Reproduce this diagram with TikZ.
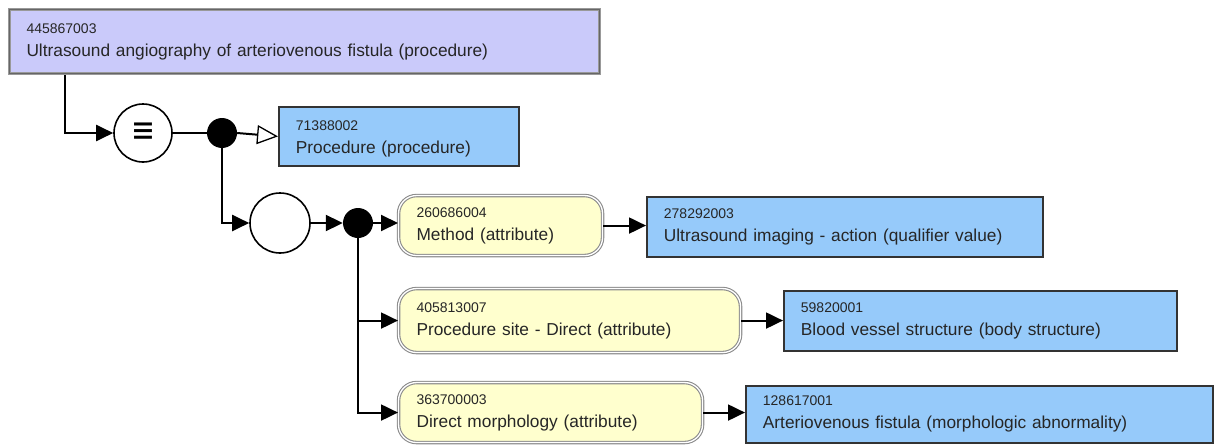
\documentclass[tikz,border=0pt]{standalone}
\usepackage{fontspec}
\setmainfont{Liberation Sans}
\newfontfamily\dejavu{DejaVu Sans}
\usetikzlibrary{arrows.meta}
\definecolor{lav}{RGB}{202,202,250}
\definecolor{skyb}{RGB}{150,202,250}
\definecolor{pale}{RGB}{255,255,206}
\newcommand{\codetxt}[1]{{\fontsize{14}{16}\selectfont #1}\\}
\newcommand{\maintxt}[1]{{\fontsize{17.3}{23}\selectfont #1}}
\tikzset{
  box/.style={anchor=north west, inner xsep=0pt, inner ysep=0pt, align=left, text=black!85, font=\fontsize{17.3}{23}\selectfont},
  bluebox/.style={box, fill=skyb, draw=black!80, line width=1.8pt},
  topbox/.style={box, fill=lav, draw=black!40, line width=3pt},
  yelbox/.style={box, fill=pale, draw=black!45, double=white, double distance=1.3pt, line width=1.1pt, rounded corners=18pt},
  ringnode/.style={circle, draw=black, line width=1.6pt, fill=white, inner sep=0pt},
  dotnode/.style={circle, fill=black, inner sep=0pt, minimum size=30pt},
  conn/.style={line width=2pt, black},
  arr/.style={conn, -{Triangle[length=17pt,width=16pt]}},
  oarr/.style={conn, -{Triangle[open,length=21pt,width=19pt,line width=1.3pt]}},
}
\begin{document}
\begin{tikzpicture}[x=1pt,y=-1pt]
\useasboundingbox (0,0) rectangle (1214,444);
\fill[white] (0,0) rectangle (1214,444);
% boxes
\node[topbox, minimum width=590pt, minimum height=64pt, text width=590pt] (top) at (8,8)
  {\hspace*{17pt}\codetxt{445867003}\hspace*{17pt}\maintxt{Ultrasound angiography of arteriovenous fistula (procedure)}};
\draw[black!60, line width=1pt] ([xshift=1.8pt,yshift=-1.8pt]top.north west) rectangle ([xshift=-1.8pt,yshift=1.8pt]top.south east);
\node[bluebox, minimum width=240pt, minimum height=59pt, text width=240pt] (proc) at (278,106)
  {\hspace*{17pt}\codetxt{\rule{0pt}{14pt}71388002}\hspace*{17pt}\maintxt{Procedure (procedure)}};
\node[ringnode, minimum size=58pt, font=\dejavu\fontsize{26}{26}\selectfont] (eq) at (143,133) {\scalebox{1.1}[1.4]{≡}};
\node[dotnode] (d1) at (222,133) {};
\node[ringnode, minimum size=60pt] (c2) at (280,223) {};
\node[dotnode] (d2) at (358,223) {};
\node[yelbox, minimum width=204pt, minimum height=60pt, text width=204pt] (y1) at (398,195)
  {\hspace*{18pt}\codetxt{260686004}\hspace*{18pt}\maintxt{Method (attribute)}};
\node[yelbox, minimum width=342pt, minimum height=64pt, text width=342pt] (y2) at (398,288)
  {\hspace*{18pt}\codetxt{405813007}\hspace*{18pt}\maintxt{Procedure site - Direct (attribute)}};
\node[yelbox, minimum width=304pt, minimum height=60pt, text width=304pt] (y3) at (398,382)
  {\hspace*{18pt}\codetxt{363700003}\hspace*{18pt}\maintxt{Direct morphology (attribute)}};
\node[bluebox, minimum width=396pt, minimum height=60pt, text width=396pt] (b1) at (646,196)
  {\hspace*{17pt}\codetxt{278292003}\hspace*{17pt}\maintxt{Ultrasound imaging - action (qualifier value)}};
\node[bluebox, minimum width=393pt, minimum height=60pt, text width=393pt] (b2) at (783,290)
  {\hspace*{17pt}\codetxt{59820001}\hspace*{17pt}\maintxt{Blood vessel structure (body structure)}};
\node[bluebox, minimum width=467pt, minimum height=57pt, text width=467pt] (b3) at (745,385)
  {\hspace*{17pt}\codetxt{128617001}\hspace*{17pt}\maintxt{Arteriovenous fistula (morphologic abnormality)}};
% connectors
\draw[arr] ([xshift=57pt]top.south west) |- (eq.west);
\draw[conn] (eq.east) -- (d1.west);
\draw[oarr] (d1.east) -- (proc.west);
\draw[arr] (d1.south) |- (c2.west);
\draw[arr] (c2.east) -- (d2.west);
\draw[arr] (d2.east) -- (d2.east -| y1.west);
\draw[arr] (d2.south) |- (y2.west);
\draw[arr] (d2.south) |- (y3.west);
\draw[arr] (y1.east) -- (y1.east -| b1.west);
\draw[arr] (y2.east) -- (y2.east -| b2.west);
\draw[arr] (y3.east) -- (y3.east -| b3.west);
\end{tikzpicture}
\end{document}
